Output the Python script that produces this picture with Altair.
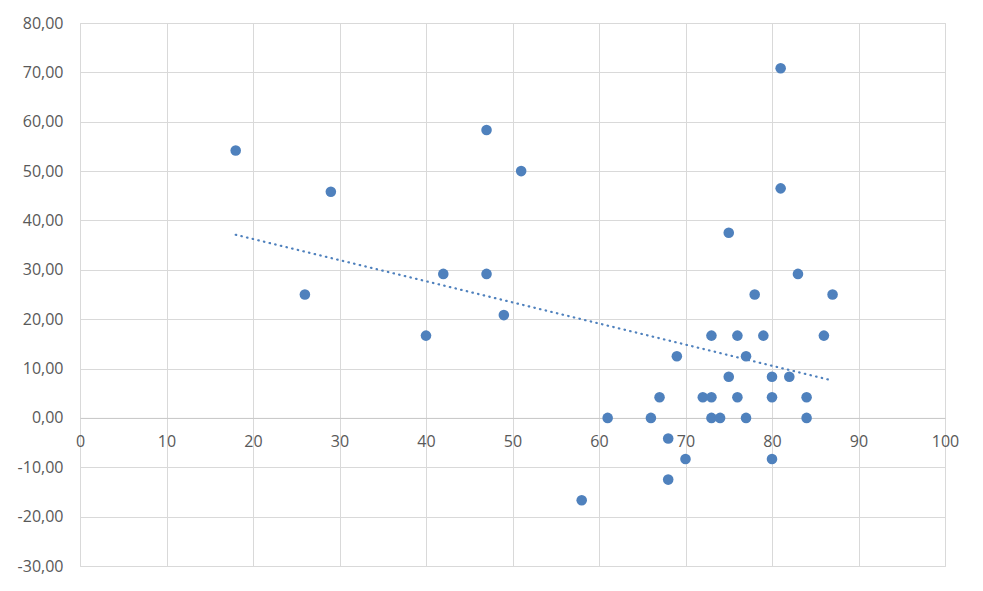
import altair as alt
import pandas as pd

x_vals = [18, 26, 29, 40, 42, 47, 47, 49, 51, 58,
          61, 66, 67, 68, 68, 69, 70, 72, 73, 73,
          73, 74, 75, 75, 76, 76, 77, 77, 78, 79,
          80, 80, 80, 81, 81, 82, 83, 84, 84, 86, 87]
y_vals = [54.17, 25.0, 45.83, 16.67, 29.17, 58.33, 29.17, 20.83, 50.0, -16.67,
          0.0, 0.0, 4.17, -4.17, -12.5, 12.5, -8.33, 4.17, 4.17, 16.67,
          0.0, 0.0, 8.33, 37.5, 16.67, 4.17, 12.5, 0.0, 25.0, 16.67,
          8.33, 4.17, -8.33, 70.83, 46.5, 8.33, 29.17, 4.17, 0.0, 16.67, 25.0]
x_ticks = [0, 10, 20, 30, 40, 50, 60, 70, 80, 90, 100]
y_ticks = [-30, -20, -10, 0, 10, 20, 30, 40, 50, 60, 70, 80]

df = pd.DataFrame({"x": x_vals, "y": y_vals})

W, H = 865, 543
grid_c = "#d9d9d9"
lab_c = "#595959"
font = "Open Sans"
pt_c = "#4F81BD"

x_enc = alt.X("x:Q", scale=alt.Scale(domain=[0, 100], nice=False, zero=False),
              axis=alt.Axis(values=x_ticks, title=None, grid=True, gridColor=grid_c,
                            ticks=False, domain=True, domainColor="#c8c8c8",
                            offset=-(H * 30 / 110), labelFont=font, labelFontSize=16,
                            labelColor=lab_c, labelPadding=16, labelFlush=False,
                            labelOverlap=False))
y_enc = alt.Y("y:Q", scale=alt.Scale(domain=[-30, 80], nice=False, zero=False),
              axis=alt.Axis(values=y_ticks, title=None, grid=True, gridColor=grid_c,
                            ticks=False, domain=False, labelFont=font, labelFontSize=16,
                            labelColor=lab_c, labelPadding=17, labelFlush=False,
                            labelOverlap=False,
                            labelExpr="(datum.value < 0 ? '-' : '') + replace(format(abs(datum.value), '.2f'), '.', ',')"))

base = alt.Chart(df)
points = base.mark_circle(size=112, color=pt_c, opacity=1).encode(x=x_enc, y=y_enc)
trend = base.transform_regression("x", "y", method="linear").mark_line(
    color=pt_c, strokeWidth=2.2, strokeDash=[0.5, 5.3], strokeCap="round"
).encode(x=alt.X("x:Q"), y=alt.Y("y:Q"))

chart = alt.layer(trend, points).properties(
    width=W, height=H,
    autosize=alt.AutoSizeParams(type="none"),
    padding={"left": 80, "top": 23, "right": 38, "bottom": 25},
    background="white",
).configure_view(stroke=grid_c, strokeWidth=1)

chart.save("out.html", embed_options={"renderer": "svg", "actions": False})
